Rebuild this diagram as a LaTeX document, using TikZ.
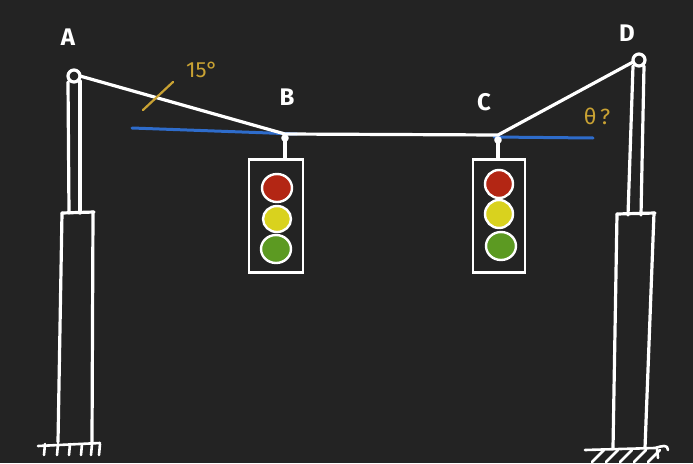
\documentclass[tikz,border=0pt]{standalone}
\usepackage{fontspec}
\setmainfont{Fira Sans}
\begin{document}
\begin{tikzpicture}[x=1pt,y=-1pt,
  chalk/.style={draw=white,line width=3.2pt,line cap=round,line join=round},
  thin chalk/.style={draw=white,line width=2.6pt,line cap=round,line join=round},
  level/.style={draw=levelblue,line width=3pt,line cap=round},
  note/.style={text=gold,font=\fontsize{22}{22}\selectfont},
  letter/.style={text=white,font=\bfseries\fontsize{24}{24}\selectfont},
  lamp/.style={draw=white,line width=2.4pt},
  lightbox/.style={draw=white,line width=2.8pt,minimum width=54pt,minimum height=113pt,inner sep=0pt}]
\definecolor{board}{HTML}{232323}
\definecolor{levelblue}{HTML}{2E6CCB}
\definecolor{gold}{HTML}{C9A233}
\definecolor{lampred}{HTML}{B32614}
\definecolor{lampyellow}{HTML}{D9D21E}
\definecolor{lampgreen}{HTML}{5C9A22}

\fill[board] (0,0) rectangle (693,463);
\useasboundingbox (0,0) rectangle (693,463);

% anchor points of the cable
\coordinate (A) at (80,76);
\coordinate (B) at (285,134);
\coordinate (C) at (498,135);
\coordinate (D) at (633,62);

% horizontal reference lines
\draw[level] (132,128) -- (297,134);
\draw[level] (494,137) -- (593,138);

% left pole
\draw[chalk] (74,76) circle (6);
\draw[chalk] (68,82) -- (69,213);
\draw[chalk] (80,81) -- (80,213);
\draw[chalk] (62,213) -- (94,212);
\draw[chalk] (62,213) -- (58,442);
\draw[chalk] (93,212) -- (92,442);
\draw[thin chalk] (38,446) -- (100,443);
\foreach \x in {45,58,70,82,92,100}
  \draw[thin chalk] (\x,444) -- (\x-1,455);

% right pole
\draw[chalk] (639,60) circle (6);
\draw[chalk] (633,66) -- (628,215);
\draw[chalk] (644,66) -- (641,215);
\draw[chalk] (617,214) -- (655,213);
\draw[chalk] (617,214) -- (613,448);
\draw[chalk] (654,213) -- (645,448);
\draw[thin chalk] (585,450) -- (655,448) .. controls (662,446) and (668,444) .. (668,450);
\foreach \x in {592,606,620,634,648}
  \draw[thin chalk] (\x,462) -- (\x+12,450);
\draw[thin chalk] (657,449) -- (658,458);

% cable
\draw[chalk] (A) -- (B) -- (C) -- (D);

% traffic light under B
\node[lightbox] (boxB) at (276,216) {};
\draw[chalk] (B) ++(0,3) coordinate (hB) -- (boxB.north -| hB);
\draw[thin chalk] (285,138) circle (2.5);
\draw[lamp,fill=lampred] (277,188) ellipse (15 and 14);
\draw[lamp,fill=lampyellow] (277,219) ellipse (14 and 13);
\draw[lamp,fill=lampgreen] (276,249) ellipse (15 and 14);

% traffic light under C
\node[lightbox,minimum width=52pt] (boxC) at (499,216) {};
\draw[chalk] (C) ++(0,4) coordinate (hC) -- (boxC.north -| hC);
\draw[thin chalk] (498,140) circle (2.5);
\draw[lamp,fill=lampred] (499,184) ellipse (14 and 14);
\draw[lamp,fill=lampyellow] (499,214) ellipse (14 and 14);
\draw[lamp,fill=lampgreen] (501,246) ellipse (15 and 14);

% point labels
\node[letter] (lA) at (68,37) {A};
\node[letter] (lB) at (287,97) {B};
\node[letter] (lC) at (484,102) {C};
\node[letter] (lD) at (627,33) {D};

% given angle at A
\draw[draw=gold,line width=2.2pt,line cap=round] (143,110) -- (173,82);
\node[note] (ang) at (202,70) {15°};

% unknown angle at D
\node[note] (theta) at (597,116) {θ\,?};
\end{tikzpicture}
\end{document}
